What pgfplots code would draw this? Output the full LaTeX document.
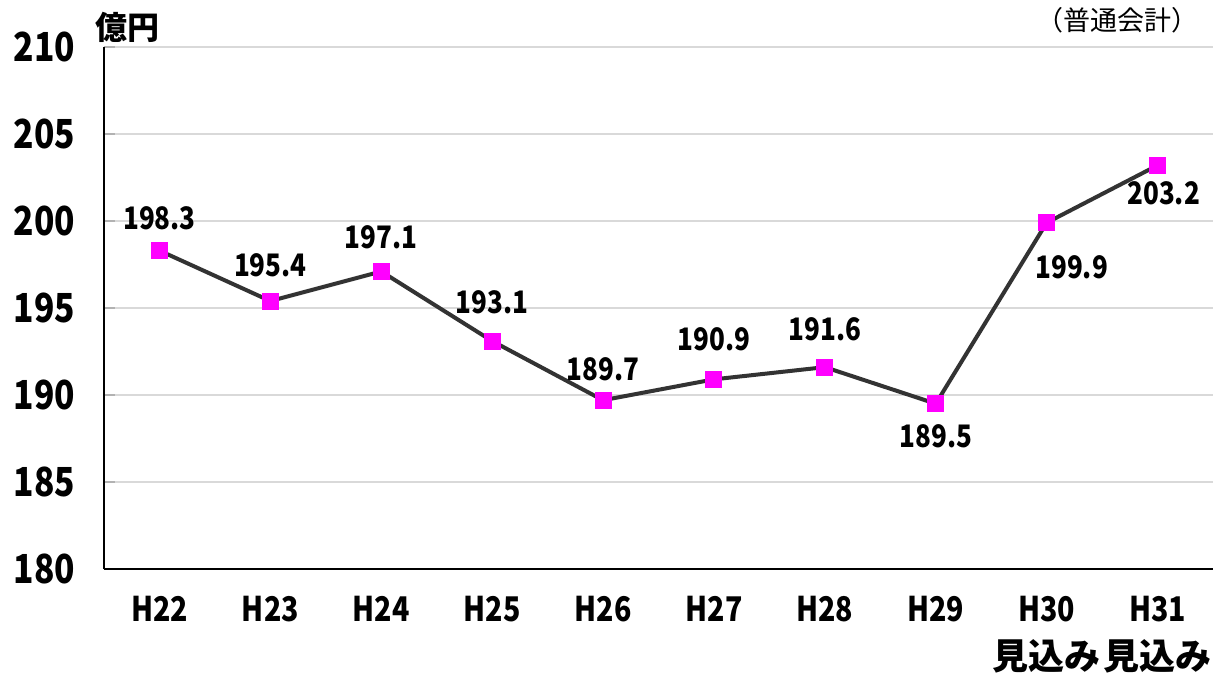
\documentclass[border=0pt]{standalone}
\usepackage{fontspec}
\usepackage{pgfplots}
\usepackage{pgfplotstable}
\pgfplotsset{compat=1.18}
\newfontfamily\jp{Noto Sans CJK JP}[FakeStretch=0.84]
\newfontfamily\jpw{Noto Sans CJK JP}
\definecolor{linegray}{HTML}{333333}
\definecolor{mkmag}{HTML}{FF00FF}

% x  value  label offset (pt)
\pgfplotstableread{
x  y      dx    dy
0  198.3  0     16
1  195.4  0     18
2  197.1  0     17
3  193.1  0     19.5
4  189.7  0     15.5
5  190.9  0     20
6  191.6  0     19
7  189.5  0     -16.5
8  199.9  12.5  -22.5
9  203.2  3     -14
}\debtdata

\begin{document}
\begin{tikzpicture}
\useasboundingbox (-52pt,-55.5pt) rectangle (557.5pt,284.5pt);
\begin{axis}[
  at={(0,0)}, anchor=south west,
  scale only axis,
  width=554.5pt, height=261pt,
  xmin=-0.5, xmax=9.5,
  ymin=180, ymax=210,
  ytick={180,185,...,210},
  xtick={0,...,9},
  xticklabels={H22,H23,H24,H25,H26,H27,H28,H29,H30\\{\jpw\bfseries\fontsize{18}{18}\selectfont 見込み},H31\\{\jpw\bfseries\fontsize{18}{18}\selectfont 見込み}},
  minor xtick={-0.5,0.5,...,9.5},
  axis lines*=left,
  axis line style={black, line width=0.8pt},
  ymajorgrids=true,
  grid style={gray!30, line width=0.6pt},
  xtick style={draw=none},
  ytick style={gray!60, line width=0.6pt},
  minor x tick style={gray!50, line width=0.6pt},
  major tick length=5.5pt,
  minor tick length=5pt,
  tick align=inside,
  clip=false,
  /pgf/number format/assume math mode=true,
  yticklabel style={font=\jp\bfseries\fontsize{20}{20}\selectfont, xshift=-11pt},
  xticklabel style={font=\jp\bfseries\fontsize{17}{24}\selectfont, align=center, anchor=north, yshift=-10pt},
]
\addplot[
  color=linegray, line width=2pt,
  mark=square*, mark size=4pt,
  mark options={fill=mkmag, draw=mkmag, line width=0pt},
  visualization depends on={\thisrow{dx}\as\dx},
  visualization depends on={\thisrow{dy}\as\dy},
  nodes near coords,
  point meta=explicit symbolic,
  nodes near coords style={font=\jp\bfseries\fontsize{15.5}{15.5}\selectfont, anchor=center, xshift=\dx pt, yshift=\dy pt, text=black},
] table[x=x, y=y, meta=y] {\debtdata};
\end{axis}
\node[font=\jpw\bfseries\fontsize{16}{16}\selectfont] at (11.5pt,271pt) {億円};
\node[font=\jpw\fontsize{13.5}{13.5}\selectfont] at (506.5pt,274.5pt) {（普通会計）};
\end{tikzpicture}
\end{document}
